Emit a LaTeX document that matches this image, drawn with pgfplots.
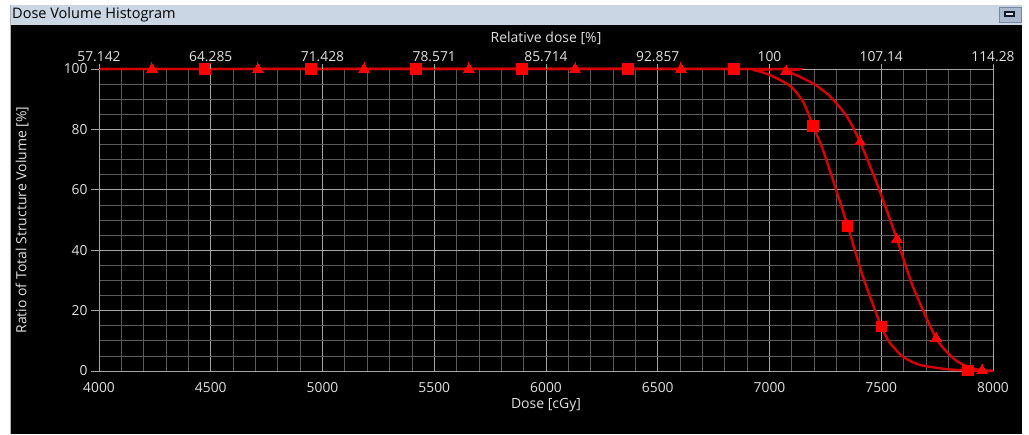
\documentclass[border=0pt]{standalone}
\usepackage{pgfplots}
\pgfplotsset{compat=1.18}
\usepackage{fontspec}
\setmainfont{Open Sans}
\definecolor{titlebar}{RGB}{203,214,228}
\definecolor{txt}{RGB}{225,225,225}
\definecolor{gridmin}{RGB}{90,90,90}
\definecolor{gridmaj}{RGB}{165,165,165}
\definecolor{curve}{RGB}{215,0,0}
\definecolor{markred}{RGB}{255,0,0}
\definecolor{btnfill}{RGB}{170,185,205}
\definecolor{btnedge}{RGB}{120,135,160}
\definecolor{btndark}{RGB}{20,25,40}
\definecolor{btnlight}{RGB}{220,225,235}
\begin{document}
\begin{tikzpicture}[x=1pt,y=1pt]
% window frame
\fill[white] (0,0) rectangle (1029,434);
\fill[black] (10,0) rectangle (1022,409);
\fill[titlebar] (10,409) rectangle (1022,429);
\draw[gray!60,line width=1pt] (10,0) -- (10,429);
\node[anchor=west,font=\fontsize{14.5}{16}\selectfont,text=black,inner sep=0pt] at (12,419) {Dose Volume Histogram};
\fill[btnfill] (999,412) rectangle (1021,427);
\draw[btnedge] (999,412) rectangle (1021,427);
\fill[btndark] (1003.5,416.5) rectangle (1014.5,422.5);
\fill[btnlight] (1005.5,418.5) rectangle (1012.5,420.5);

\begin{axis}[
  at={(99pt,63pt)}, anchor=south west,
  scale only axis, width=894pt, height=302pt,
  xmin=4000, xmax=8000, ymin=0, ymax=100,
  clip=false,
  axis line style={gridmaj},
  axis x line*=bottom, axis y line*=left,
  xtick={4000,4500,...,8000},
  minor xtick={4000,4100,...,8000},
  ytick={0,20,...,100},
  minor ytick={0,5,...,100},
  grid=both,
  major grid style={gridmaj,line width=0.8pt},
  minor grid style={gridmin,line width=0.8pt},
  tick style={gridmaj,line width=0.8pt},
  major tick length=8pt, minor tick length=0pt,
  tick align=outside,
  xtick style={draw=none},
  /pgf/number format/assume math mode=true,
  /pgf/number format/.cd, 1000 sep={}, /pgfplots/.cd,
  ticklabel style={font=\fontsize{13.8}{15}\selectfont, text=txt},
  xticklabel style={yshift=0pt},
  xlabel={Dose [cGy]},
  xlabel style={font=\fontsize{14}{15}\selectfont, text=txt, at={(axis description cs:0.5,0)}, anchor=center, yshift=-34pt},
  ylabel={Ratio of Total Structure Volume [\%]},
  ylabel style={font=\fontsize{14}{15}\selectfont, text=txt, at={(axis description cs:-0.086,0.5)}, anchor=center},
]
% square series
\addplot[curve, line width=2.4pt, smooth, tension=0.4] coordinates {
(4000,100) (6845,100) (6930,99.6) (7002,98.0) (7092,94.4) (7150,89.2) (7195,81.1) (7239,73.2) (7284,63.2) (7350,48.0) (7418,31.2) (7500,14.8) (7539,9.3) (7597,4.7) (7673,2.0) (7794,0.6) (7888,0.2) (8000,0)
};
% triangle series
\addplot[curve, line width=2.4pt, smooth, tension=0.4] coordinates {
(4000,100) (6950,100) (7074,99.3) (7195,95.2) (7271,90.9) (7347,84.2) (7405,75.9) (7463,65.4) (7508,56.6) (7570,43.7) (7642,27.9) (7745,10.9) (7821,4.3) (7884,1.4) (7951,0.2) (8000,0)
};
\addplot[only marks, mark=square*, mark size=5.2pt, mark options={fill=markred, draw=markred, line width=0pt}] coordinates {
(4474,100) (4949,100) (5418,100) (5893,100) (6367,100) (6841,100) (7195,81.1) (7350,48.0) (7500,14.8) (7888,0.2)
};
\addplot[only marks, mark=triangle*, mark size=6pt, mark options={fill=markred, draw=markred, line width=0pt}] coordinates {
(4237,100) (4711,100) (5186,100) (5655,100) (6130,100) (6604,100) (7074,99.3) (7405,75.9) (7570,43.7) (7745,10.9) (7951,0.2)
};
\end{axis}

\begin{axis}[
  at={(99pt,63pt)}, anchor=south west,
  scale only axis, width=894pt, height=302pt,
  xmin=4000, xmax=8000, ymin=0, ymax=100,
  axis x line*=top, axis y line=none,
  axis line style={draw=none},
  xtick={4000,4500,...,8000},
  xticklabels={57.142,64.285,71.428,78.571,85.714,92.857,100,107.14,114.28},
  tick style={gridmaj,line width=0.8pt},
  major tick length=5pt, tick align=outside,
  ticklabel style={font=\fontsize{13.8}{15}\selectfont, text=txt},
  xticklabel style={yshift=-1pt},
  xlabel={Relative dose [\%]},
  xlabel style={font=\fontsize{14}{15}\selectfont, text=txt, at={(axis description cs:0.5,1)}, anchor=center, yshift=31pt},
]
\end{axis}
\end{tikzpicture}
\end{document}
